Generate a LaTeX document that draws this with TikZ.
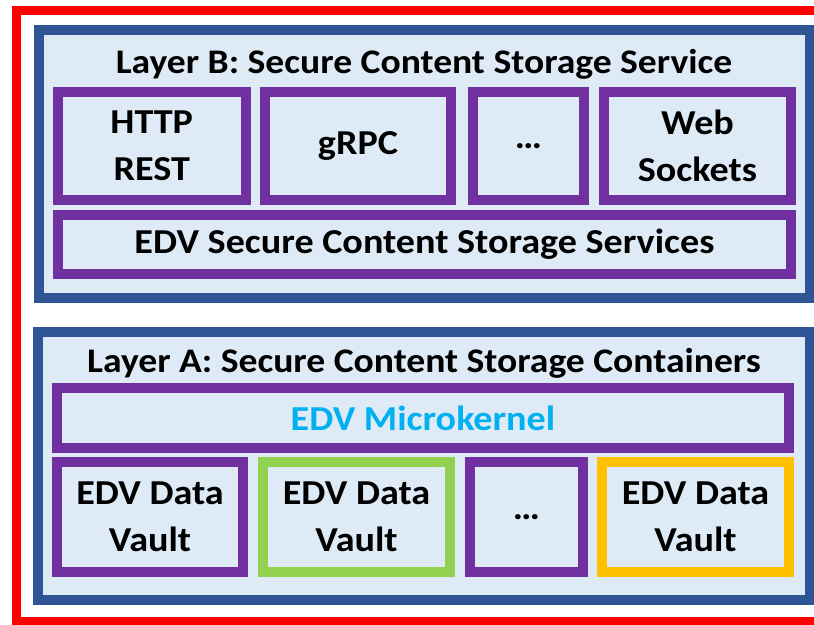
\documentclass[tikz,border=0pt]{standalone}
\usepackage{fontspec}
\setmainfont{Carlito}[FakeStretch=1.09]
\usetikzlibrary{positioning}
\definecolor{layerblue}{HTML}{2F5597}
\definecolor{layerfill}{HTML}{DEEBF7}
\definecolor{partpurple}{HTML}{7030A0}
\definecolor{partgreen}{HTML}{92D050}
\definecolor{partorange}{HTML}{FFC000}
\definecolor{kernelcyan}{HTML}{00B0F0}
\tikzset{
  layerbox/.style={draw=layerblue, line width=10pt, fill=layerfill, inner sep=0pt},
  partbox/.style={draw=#1, line width=10pt, inner sep=0pt, align=center,
    font=\fontsize{35}{47}\selectfont\bfseries},
  partbox/.default=partpurple,
  layertitle/.style={anchor=base, inner sep=0pt, font=\fontsize{34.5}{40}\selectfont\bfseries}
}
\begin{document}
\begin{tikzpicture}[x=1pt,y=-1pt]
\useasboundingbox (0,0) rectangle (814,624);
% outer frame
\draw[red, line width=9pt] (16.5,10) rectangle (840,621);
% Layer B
\node[layerbox, minimum width=771pt, minimum height=268pt] (layerB) at (424,164) {};
\node[layertitle] (titleB) at (424,73) {Layer B: Secure Content Storage Service};
\foreach \nm/\cx/\w/\txt in {http/151.75/187.5/{HTTP\\REST}, grpc/358/186/gRPC,
    dotsB/528.5/111/…, web/697.5/187/{Web\\Sockets}}{
  \node[partbox, minimum width=\w pt, minimum height=108pt] (\nm) at (\cx,146) {\txt};
}
\node[partbox, minimum width=733pt, minimum height=59pt] (services) at (424.5,244.5)
  {EDV Secure Content Storage Services};
% Layer A
\node[layerbox, minimum width=772.5pt, minimum height=268pt] (layerA) at (423.75,466) {};
\node[layertitle] (titleA) at (424,372) {Layer A: Secure Content Storage Containers};
\node[partbox, minimum width=732pt, minimum height=59.5pt, text=kernelcyan] (kernel)
  at (423,418) {EDV Microkernel};
\foreach \nm/\cx/\w/\col/\txt in {vaultA/150/186/partpurple/{EDV Data\\Vault},
    vaultB/356.5/187/partgreen/{EDV Data\\Vault}, dotsA/526.5/113/partpurple/…,
    vaultC/695.5/187/partorange/{EDV Data\\Vault}}{
  \node[partbox=\col, minimum width=\w pt, minimum height=110pt] (\nm) at (\cx,517) {\txt};
}
\end{tikzpicture}
\end{document}
